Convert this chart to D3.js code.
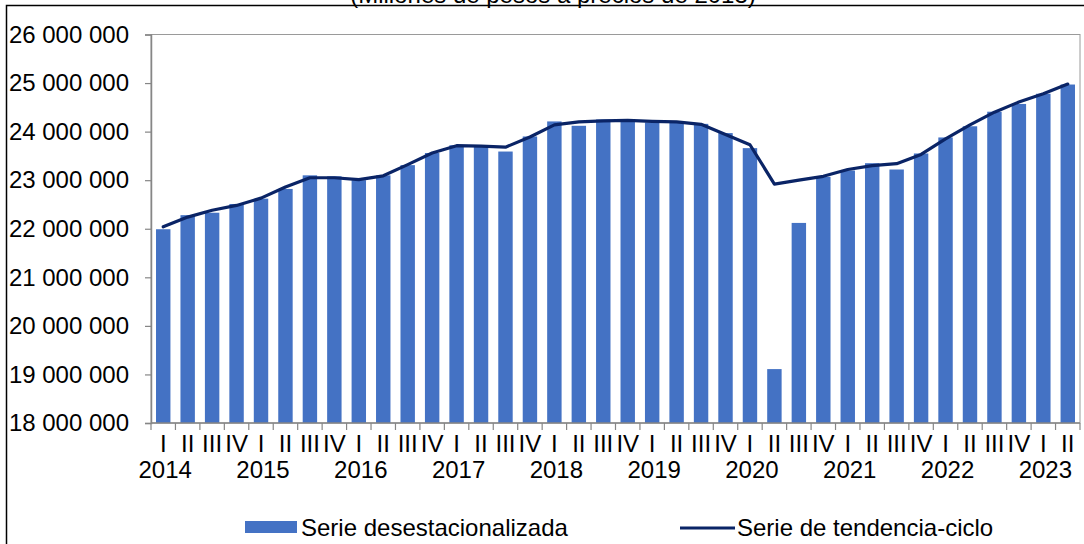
<!DOCTYPE html>
<html>
<head>
<meta charset="utf-8">
<script src="https://cdn.jsdelivr.net/npm/d3@7"></script>
<style>
  html, body { margin: 0; padding: 0; background: #fff; }
  svg { display: block; font-family: "Liberation Sans", Arial, sans-serif; }
</style>
</head>
<body>
<svg id="chart" width="1084" height="544"></svg>
<script>
// ---- Data ----
const quarterLabels = ["I","II","III","IV","I","II","III","IV","I","II","III","IV","I","II","III","IV","I","II","III","IV","I","II","III","IV","I","II","III","IV","I","II","III","IV","I","II","III","IV","I","II"];
const years = ["2014","2015","2016","2017","2018","2019","2020","2021","2022","2023"];
const seasonallyAdjusted = [
  21990000, 22280000, 22330000, 22510000,
  22620000, 22820000, 23100000, 23080000,
  23000000, 23100000, 23310000, 23560000,
  23720000, 23700000, 23590000, 23900000,
  24210000, 24120000, 24250000, 24230000,
  24190000, 24180000, 24160000, 23970000,
  23660000, 19110000, 22120000, 23070000,
  23200000, 23350000, 23220000, 23550000,
  23880000, 24110000, 24410000, 24570000,
  24780000, 24970000
];
const trendCycle = [
  22040000, 22240000, 22380000, 22480000,
  22630000, 22860000, 23050000, 23050000,
  23010000, 23090000, 23320000, 23560000,
  23710000, 23700000, 23680000, 23890000,
  24140000, 24200000, 24220000, 24230000,
  24210000, 24200000, 24150000, 23940000,
  23730000, 22920000, 23000000, 23080000,
  23220000, 23300000, 23340000, 23530000,
  23850000, 24140000, 24400000, 24610000,
  24780000, 24980000
];
const yTicks = [18000000, 19000000, 20000000, 21000000, 22000000, 23000000, 24000000, 25000000, 26000000];
const titleText = "(Millones de pesos a precios de 2013)";
const legendLabels = ["Serie desestacionalizada", "Serie de tendencia-ciclo"];

// ---- Layout ----
const svg = d3.select("#chart");
const plot = { left: 151, right: 1080, top: 34.5, bottom: 423 };
const barColor = "#4472C4";
const lineColor = "#0A2466";
const axisColor = "#868686";
const fontSize = 24;

const idx = d3.range(seasonallyAdjusted.length);
const pad = 0.41;
const x = d3.scaleBand().domain(idx).range([plot.left, plot.right]).paddingInner(pad).paddingOuter(pad / 2);
const y = d3.scaleLinear().domain([18000000, 26000000]).range([plot.bottom, plot.top]);

// Outer frame
svg.append("path")
  .attr("d", `M6.5,544 V5.5 H1090`)
  .attr("fill", "none").attr("stroke", "#000").attr("stroke-width", 1.5);

// Title (mostly clipped off the top, as in the reference)
svg.append("text")
  .attr("x", 553).attr("y", 3)
  .attr("text-anchor", "middle")
  .attr("font-size", fontSize)
  .attr("fill", "#000")
  .text(titleText);

// Plot border (top/right)
svg.append("rect")
  .attr("x", plot.left).attr("y", plot.top)
  .attr("width", plot.right - plot.left).attr("height", plot.bottom - plot.top)
  .attr("fill", "none").attr("stroke", "#9a9a9a").attr("stroke-width", 1);

// Bars
svg.append("g").selectAll("rect").data(seasonallyAdjusted).join("rect")
  .attr("x", (d, i) => x(i))
  .attr("y", d => y(d))
  .attr("width", x.bandwidth())
  .attr("height", d => y(18000000) - y(d))
  .attr("fill", barColor);

// Trend line
const line = d3.line().x((d, i) => x(i) + x.bandwidth() / 2).y(d => y(d));
svg.append("path").datum(trendCycle)
  .attr("d", line)
  .attr("fill", "none").attr("stroke", lineColor)
  .attr("stroke-width", 3.2).attr("stroke-linejoin", "round").attr("stroke-linecap", "round");

// Y axis
const yAxis = d3.axisLeft(y).tickValues(yTicks).tickSize(6).tickPadding(16)
  .tickFormat(d => d3.format(",")(d).replace(/,/g, " "));
const gy = svg.append("g").attr("transform", `translate(${plot.left},0)`).call(yAxis);
gy.select(".domain").attr("stroke", axisColor).attr("stroke-width", 1.5);
gy.selectAll(".tick line").attr("stroke", axisColor).attr("stroke-width", 1.2);
gy.selectAll(".tick text").attr("font-size", fontSize).attr("font-family", "Liberation Sans, Arial, sans-serif").attr("fill", "#000");

// X axis baseline
const boundary = i => x(i) - (x.step() - x.bandwidth()) / 2;
svg.append("line")
  .attr("x1", plot.left).attr("x2", plot.right)
  .attr("y1", y(18000000)).attr("y2", y(18000000))
  .attr("stroke", axisColor).attr("stroke-width", 1.5);
// X tick marks at band boundaries
svg.append("g").selectAll("line").data(d3.range(seasonallyAdjusted.length + 1)).join("line")
  .attr("x1", i => i < seasonallyAdjusted.length ? boundary(i) : plot.right)
  .attr("x2", i => i < seasonallyAdjusted.length ? boundary(i) : plot.right)
  .attr("y1", y(18000000)).attr("y2", y(18000000) + 7)
  .attr("stroke", axisColor).attr("stroke-width", 1.2);

// Quarter labels
svg.append("g").selectAll("text").data(quarterLabels).join("text")
  .attr("x", (d, i) => x(i) + x.bandwidth() / 2)
  .attr("y", 452)
  .attr("text-anchor", "middle")
  .attr("font-size", fontSize)
  .attr("fill", "#000")
  .text(d => d);

// Year labels (under first quarter of each year)
svg.append("g").selectAll("text").data(years).join("text")
  .attr("x", (d, i) => x(i * 4) + x.bandwidth() / 2 + 2)
  .attr("y", 478)
  .attr("text-anchor", "middle")
  .attr("font-size", fontSize)
  .attr("fill", "#000")
  .text(d => d);

// Legend
const lg = svg.append("g");
lg.append("rect").attr("x", 245).attr("y", 521).attr("width", 52).attr("height", 12).attr("fill", barColor);
lg.append("text").attr("x", 301).attr("y", 536).attr("font-size", fontSize).attr("fill", "#000").text(legendLabels[0]);
lg.append("line").attr("x1", 680).attr("x2", 735).attr("y1", 528).attr("y2", 528)
  .attr("stroke", lineColor).attr("stroke-width", 3.2);
lg.append("text").attr("x", 737).attr("y", 536).attr("font-size", fontSize).attr("fill", "#000").text(legendLabels[1]);
</script>
</body>
</html>
